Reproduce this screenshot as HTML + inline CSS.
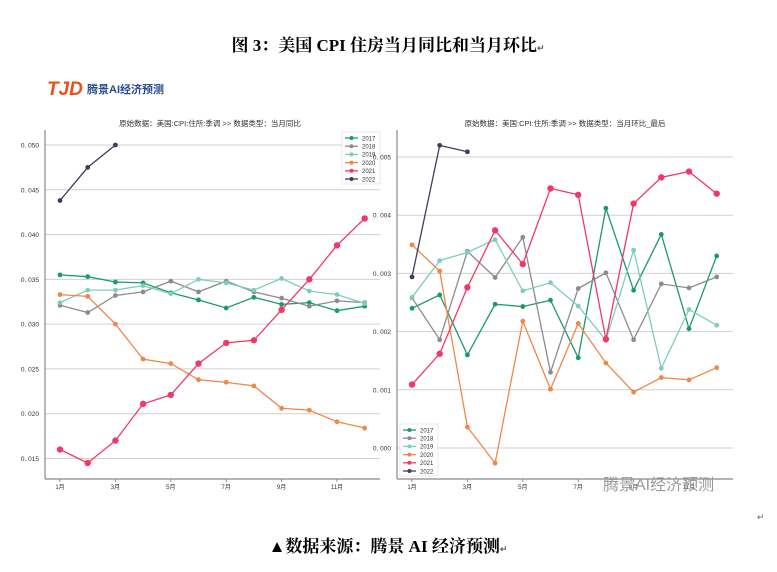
<!DOCTYPE html>
<html><head><meta charset="utf-8"><style>
body{margin:0;background:#fff;width:777px;height:572px;overflow:hidden}
svg{display:block}
</style></head><body>
<svg id="s" width="777" height="572" xmlns="http://www.w3.org/2000/svg" font-family="'Liberation Sans','Noto Sans CJK SC',sans-serif">
<rect width="777" height="572" fill="#fff"/>
<text x="388" y="51" text-anchor="middle" font-size="17" font-weight="bold" font-family="'Liberation Serif','Noto Serif CJK SC',serif">图 3：美国 CPI 住房当月同比和当月环比<tspan font-size="9" fill="#666">↵</tspan></text>
<text x="47" y="95" font-size="19" font-weight="bold" font-style="italic" fill="#e8501c">TJD</text>
<text x="87" y="93" font-size="11" font-weight="bold" fill="#2b4a8c">腾景AI经济预测</text>
<text x="210" y="126" text-anchor="middle" font-size="7.5" fill="#333">原始数据：美国:CPI:住所:季调 &gt;&gt; 数据类型：当月同比</text>
<text x="565" y="126" text-anchor="middle" font-size="7.5" fill="#333">原始数据：美国:CPI:住所:季调 &gt;&gt; 数据类型：当月环比_最后</text>
<g id="g"></g>
<text x="603" y="490" font-size="16" fill="#999">腾景AI经济预测</text>
<text x="388" y="552" text-anchor="middle" font-size="17" font-weight="bold" font-family="'Liberation Serif','Noto Serif CJK SC',serif">▲数据来源：腾景 AI 经济预测<tspan font-size="9" fill="#666">↵</tspan></text>
<text x="757" y="520" font-size="9" fill="#666">↵</text>
</svg>
<script>
var g=document.getElementById('g'),h='';
var C=['#1a9a6c','#8f8a90','#7fcdc0','#f0874a','#f0386a','#3b3f5c'],Y=['2017','2018','2019','2020','2021','2022'];
var L=[[.0355,.0353,.0347,.0346,.0335,.0327,.0318,.0330,.0322,.0324,.0315,.0320],
[.0321,.0313,.0332,.0336,.0348,.0336,.0348,.0336,.0329,.0320,.0326,.0324],
[.0324,.0338,.0338,.0343,.0334,.0350,.0346,.0338,.0351,.0337,.0333,.0323],
[.0333,.0331,.0300,.0261,.0256,.0238,.0235,.0231,.0206,.0204,.0191,.0184],
[.0160,.0145,.0170,.0211,.0221,.0256,.0279,.0282,.0316,.0350,.0388,.0418],
[.0438,.0475,.0500]];
var R=[[.0024,.00263,.00160,.00247,.00243,.00254,.00155,.00412,.00271,.00367,.00205,.00330],
[.00258,.00186,.00338,.00293,.00362,.00130,.00274,.00301,.00186,.00282,.00275,.00294],
[.00259,.00322,.00336,.00358,.00270,.00284,.00244,.00185,.00340,.00137,.00238,.00211],
[.00349,.00304,.00036,-.00026,.00218,.00101,.00214,.00146,.00096,.00121,.00117,.00138],
[.00109,.00162,.00276,.00374,.00316,.00446,.00435,.00187,.00420,.00465,.00475,.00437],
[.00294,.00520,.00509]];
function chart(D,x0,xr,top,fy,ticks,fmt,ax,lx,ly){
 ticks.forEach(function(t){var y=fy(t);h+='<line x1="'+ax+'" x2="'+xr+'" y1="'+y+'" y2="'+y+'" stroke="#d0d0d0" stroke-width="1"/>';
 h+='<text x="'+(ax-6)+'" y="'+(y+2.5)+'" text-anchor="end" font-size="6.5" fill="#333">'+fmt(t)+'</text>';});
 h+='<line x1="'+ax+'" x2="'+ax+'" y1="'+top+'" y2="479" stroke="#888" stroke-width="1.2"/><line x1="'+ax+'" x2="'+xr+'" y1="479" y2="479" stroke="#888" stroke-width="1.2"/>';
 [1,3,5,7,9,11].forEach(function(m){var x=x0+(m-1)*27.7;h+='<line x1="'+x+'" x2="'+x+'" y1="479" y2="482" stroke="#888"/><text x="'+x+'" y="489" text-anchor="middle" font-size="6" fill="#333">'+m+'月</text>';});
 D.forEach(function(s,i){var p=s.map(function(v,k){return (x0+k*27.7).toFixed(1)+','+fy(v).toFixed(1)}).join(' ');
 h+='<polyline points="'+p+'" fill="none" stroke="'+C[i]+'" stroke-width="1.3"/>';
 s.forEach(function(v,k){h+='<circle cx="'+(x0+k*27.7)+'" cy="'+fy(v)+'" r="'+(i==4?3.2:2.4)+'" fill="'+C[i]+'"/>';});});
 h+='<rect x="'+lx+'" y="'+ly+'" width="38" height="52" fill="#fff" stroke="#ddd" stroke-width="0.6"/>';
 Y.forEach(function(y,i){var yy=ly+6+i*8.2;h+='<line x1="'+(lx+3)+'" x2="'+(lx+16)+'" y1="'+yy+'" y2="'+yy+'" stroke="'+C[i]+'" stroke-width="1.3"/><circle cx="'+(lx+9.5)+'" cy="'+yy+'" r="2" fill="'+C[i]+'"/><text x="'+(lx+20)+'" y="'+(yy+2.3)+'" font-size="6" fill="#333">'+y+'</text>';});
}
chart(L,60,380,130,function(v){return 145+(0.050-v)*8957},[.050,.045,.040,.035,.030,.025,.020,.015],function(t){return t.toFixed(3).replace('0.','0. ')},45,342,132);
chart(R,412,733,130,function(v){return 448-v*58200},[.005,.004,.003,.002,.001,0],function(t){return t.toFixed(3).replace('0.','0. ')},397,400,424);
g.innerHTML=h;
</script>
</body></html>
